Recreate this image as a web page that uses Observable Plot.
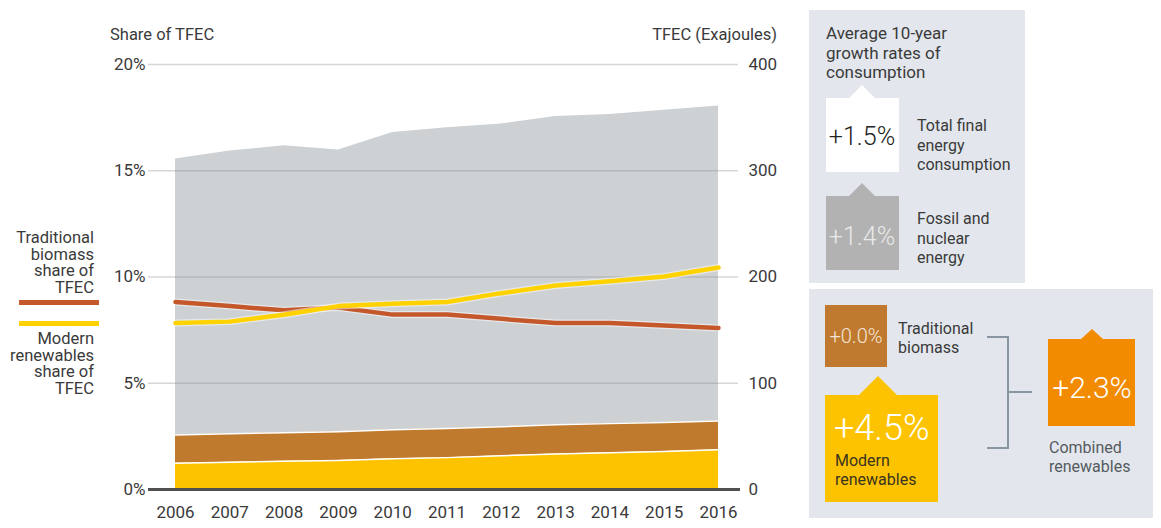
<!DOCTYPE html>
<html><head><meta charset="utf-8">
<script src="https://cdn.jsdelivr.net/npm/d3@7"></script>
<script src="https://cdn.jsdelivr.net/npm/@observablehq/plot@0.6"></script>
<style>
body{margin:0;background:#fff;font-family:Roboto,sans-serif;}
#wrap{position:relative;width:1161px;height:528px;overflow:hidden;}
.layer{position:absolute;left:0;top:0;}
.lbl{position:absolute;color:#3a3a3a;font-size:16px;line-height:17px;white-space:nowrap;}
</style></head>
<body><div id="wrap"></div>
<script>
// ---- data ----
const years = [2006, 2007, 2008, 2009, 2010, 2011, 2012, 2013, 2014, 2015, 2016];
// total final energy consumption (EJ) – top of grey area
const totalTFEC = [311, 318.5, 323.5, 319.5, 336, 340.5, 344, 351, 353, 357, 361];
// top of traditional biomass band (EJ)
const biomassTop = [51.4, 52.4, 53.4, 54.4, 56.2, 57.3, 59.1, 60.9, 62.0, 63.1, 64.4];
// top of modern renewables band (EJ)
const modernTop = [24.8, 25.6, 26.5, 27.4, 29.0, 30.0, 31.7, 33.5, 34.5, 35.7, 37.3];
// shares of TFEC (%)
const tradShare = [8.82, 8.63, 8.43, 8.56, 8.23, 8.23, 8.03, 7.83, 7.83, 7.72, 7.6];
const modernShare = [7.83, 7.9, 8.22, 8.63, 8.74, 8.82, 9.24, 9.6, 9.8, 10.02, 10.45];
const pctTicks = [0, 5, 10, 15, 20];
const ejTicks = [0, 100, 200, 300, 400];
// growth panel
const growthLabels = ["Total final energy consumption", "Fossil and nuclear energy", "Traditional biomass", "Modern renewables", "Combined renewables"];
const growthValues = [1.5, 1.4, 0.0, 4.5, 2.3];

const rows = years.map((year, i) => ({year, total: totalTFEC[i], biomassTop: biomassTop[i], modernTop: modernTop[i], trad: tradShare[i], modern: modernShare[i]}));

const wrap = document.getElementById("wrap");
const W = 790, H = 528;
const common = {
  width: W, height: H, marginLeft: 175, marginRight: 72, marginTop: 64, marginBottom: 39,
  style: {fontFamily: "Roboto, sans-serif", fontSize: "17px", color: "#3a3a3a", background: "transparent", overflow: "visible"}
};

const plotEJ = Plot.plot({
  ...common,
  x: {domain: [2006, 2016], axis: null},
  y: {domain: [0, 400], axis: null},
  marks: [
    Plot.areaY(rows, {x: "year", y1: "biomassTop", y2: "total", fill: "#cdd1d4"}),
    Plot.areaY(rows, {x: "year", y1: "modernTop", y2: "biomassTop", fill: "#c07a2d"}),
    Plot.areaY(rows, {x: "year", y1: 0, y2: "modernTop", fill: "#fdc300"}),
    Plot.lineY(rows, {x: "year", y: "modernTop", stroke: "#fff", strokeWidth: 1.5}),
    Plot.lineY(rows, {x: "year", y: "biomassTop", stroke: "#fff", strokeWidth: 1.5}),
    Plot.ruleY(ejTicks.filter(d => d > 0), {stroke: "#8a8a8a", strokeOpacity: 0.35, strokeWidth: 1.3, insetLeft: -27, insetRight: -20}),
    Plot.ruleY([0], {stroke: "#505050", strokeWidth: 3, insetLeft: -27, insetRight: -22}),
    Plot.axisY(ejTicks, {anchor: "right", tickSize: 0, tickPadding: 30, label: null}),
    Plot.axisX(years, {anchor: "bottom", tickSize: 0, tickPadding: 16, tickFormat: d => String(d), label: null})
  ]
});
plotEJ.classList.add("layer");
wrap.appendChild(plotEJ);

const plotPct = Plot.plot({
  ...common,
  x: {domain: [2006, 2016], axis: null},
  y: {domain: [0, 20], axis: null},
  marks: [
    Plot.lineY(rows, {x: "year", y: "trad", stroke: "#fff", strokeOpacity: 0.5, strokeWidth: 7}),
    Plot.lineY(rows, {x: "year", y: "trad", stroke: "#c4582a", strokeWidth: 4.5}),
    Plot.lineY(rows, {x: "year", y: "modern", stroke: "#fff", strokeOpacity: 0.5, strokeWidth: 7}),
    Plot.lineY(rows, {x: "year", y: "modern", stroke: "#ffd200", strokeWidth: 4.5}),
    Plot.axisY(pctTicks, {anchor: "left", tickSize: 0, tickPadding: 30, tickFormat: d => d + "%", label: null})
  ]
});
plotPct.classList.add("layer");
wrap.appendChild(plotPct);

function addLbl(text, left, top, extra) {
  const d = document.createElement("div");
  d.className = "lbl";
  d.textContent = text;
  d.style.left = left + "px";
  d.style.top = top + "px";
  Object.assign(d.style, extra || {});
  wrap.appendChild(d);
  return d;
}
addLbl("Share of TFEC", 110, 26, {fontSize: "16.5px"});
addLbl("TFEC (Exajoules)", 0, 26, {left: "auto", right: (1161 - 777) + "px", fontSize: "16.5px"});

// legend on the left
const legTrad = ["Traditional", "biomass", "share of", "TFEC"];
const legMod = ["Modern", "renewables", "share of", "TFEC"];
legTrad.forEach((t, i) => addLbl(t, 0, 229 + i * 16.7, {width: "94px", textAlign: "right", left: "0px", fontSize: "16.5px"}));
legMod.forEach((t, i) => addLbl(t, 0, 330 + i * 16.7, {width: "94px", textAlign: "right", left: "0px", fontSize: "16.5px"}));
function legLine(color, top) {
  const d = document.createElement("div");
  Object.assign(d.style, {position: "absolute", left: "19px", top: top + "px", width: "80px", height: "5px", background: color});
  wrap.appendChild(d);
}
legLine("#c4582a", 299.5);
legLine("#ffd200", 320.5);

// growth panel (right)
const svg = d3.select(wrap).append("svg").attr("class", "layer").attr("width", 1161).attr("height", 528)
  .style("font-family", "Roboto, sans-serif");
svg.append("rect").attr("x", 809).attr("y", 10).attr("width", 216).attr("height", 273).attr("fill", "#e3e7ed");
svg.append("rect").attr("x", 809).attr("y", 289).attr("width", 344).attr("height", 229).attr("fill", "#e3e7ed");

function box(x0, y0, x1, y1, ax, hw, ah, fill) {
  const p = ah > 0
    ? `M${x0},${y0}L${ax - hw},${y0}L${ax},${y0 - ah}L${ax + hw},${y0}L${x1},${y0}L${x1},${y1}L${x0},${y1}Z`
    : `M${x0},${y0}L${x1},${y0}L${x1},${y1}L${x0},${y1}Z`;
  svg.append("path").attr("d", p).attr("fill", fill);
}
function txt(lines, x, y, size, color, opts = {}) {
  const t = svg.append("text").attr("x", x).attr("y", y).attr("font-size", size).attr("fill", color)
    .attr("text-anchor", opts.anchor || "start").attr("font-weight", opts.weight || 400);
  lines.forEach((l, i) => t.append("tspan").attr("x", x).attr("dy", i === 0 ? 0 : (opts.lh || 19.5)).text(l));
}
const fmt = v => "+" + v.toFixed(1) + "%";

txt(["Average 10-year", "growth rates of", "consumption"], 826, 39, 17, "#3a3a3a", {lh: 19.5});

box(826, 98, 899, 172, 862, 13, 13, "#ffffff");
txt([fmt(growthValues[0])], 862, 145, 25, "#222", {anchor: "middle", weight: 300});
txt(["Total final", "energy", "consumption"], 917, 131, 16, "#3a3a3a", {lh: 19.5});

box(826, 196, 899, 270, 862, 13, 13, "#b2b2b2");
txt([fmt(growthValues[1])], 862, 245, 25, "#e9e9e9", {anchor: "middle", weight: 300});
txt(["Fossil and", "nuclear", "energy"], 917, 224, 16, "#3a3a3a", {lh: 19.5});

box(825, 305, 887, 367, 0, 0, 0, "#c07a30");
txt([fmt(growthValues[2])], 856, 343, 20, "#f3e6d6", {anchor: "middle", weight: 300});
txt(["Traditional", "biomass"], 898, 334, 16, "#3a3a3a", {lh: 19});

box(825, 395, 938, 502, 878, 19, 19, "#fdc300");
txt([fmt(growthValues[3])], 834, 440, 36, "#ffffff", {weight: 300});
txt(["Modern", "renewables"], 835, 466, 16, "#3a3320", {lh: 18.5});

svg.append("path").attr("d", "M987,337H1008V448H987M1008,392H1032").attr("fill", "none").attr("stroke", "#8a95a2").attr("stroke-width", 2);

box(1048, 339, 1135, 426, 1092, 11, 10, "#f28b00");
txt([fmt(growthValues[4])], 1092, 398, 30, "#ffffff", {anchor: "middle", weight: 300});
txt(["Combined", "renewables"], 1049, 453, 16, "#555a60", {lh: 18.5});
</script>
</body></html>
